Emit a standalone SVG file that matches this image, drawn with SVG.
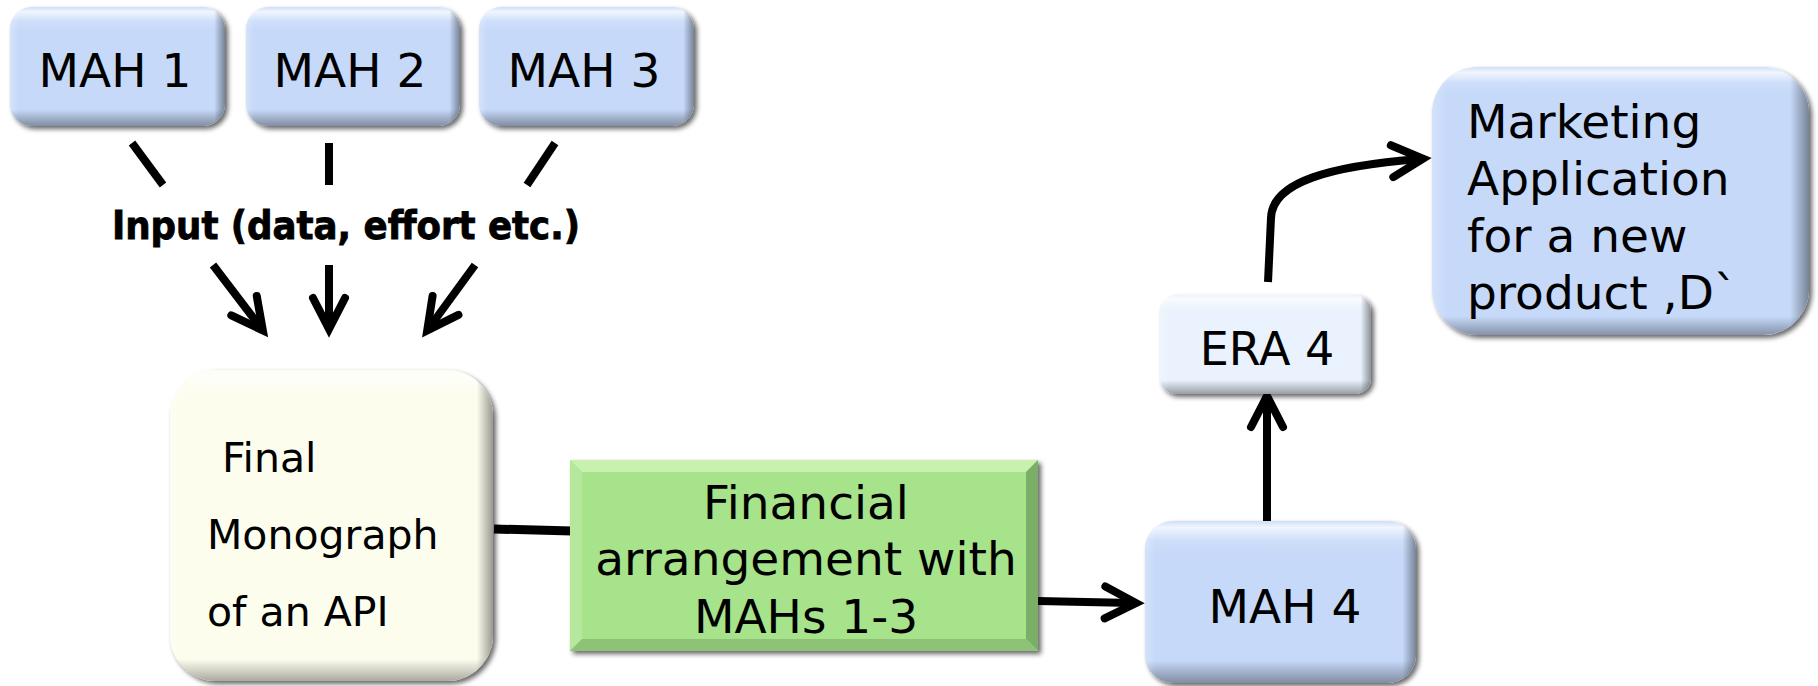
<svg xmlns="http://www.w3.org/2000/svg" width="1818" height="686" viewBox="0 0 1818 686">
<defs>
<style>
.t{font-family:"DejaVu Sans","Verdana",sans-serif;fill:#000}
.c{fill:none;stroke:#000;stroke-width:8;stroke-linecap:butt}
</style>
<filter id="sh" x="-10%" y="-10%" width="125%" height="130%">
<feGaussianBlur in="SourceAlpha" stdDeviation="2.5"/>
<feOffset dx="2.5" dy="3" result="o"/>
<feComponentTransfer><feFuncA type="linear" slope="0.6"/></feComponentTransfer>
<feMerge><feMergeNode/><feMergeNode in="SourceGraphic"/></feMerge>
</filter>
<linearGradient id="bv" x1="0" y1="0" x2="0" y2="1">
<stop offset="0" stop-color="#fff" stop-opacity="0.15"/>
<stop offset="0.04" stop-color="#fff" stop-opacity="0.75"/>
<stop offset="0.12" stop-color="#fff" stop-opacity="0.15"/>
<stop offset="0.2" stop-color="#fff" stop-opacity="0"/>
<stop offset="0.86" stop-color="#000" stop-opacity="0"/>
<stop offset="1" stop-color="#000" stop-opacity="0.35"/>
</linearGradient>
<linearGradient id="bvT" x1="0" y1="0" x2="0" y2="1">
<stop offset="0" stop-color="#fff" stop-opacity="0.15"/>
<stop offset="0.02" stop-color="#fff" stop-opacity="0.75"/>
<stop offset="0.06" stop-color="#fff" stop-opacity="0.15"/>
<stop offset="0.1" stop-color="#fff" stop-opacity="0"/>
<stop offset="0.93" stop-color="#000" stop-opacity="0"/>
<stop offset="1" stop-color="#000" stop-opacity="0.33"/>
</linearGradient>
<linearGradient id="bh" x1="0" y1="0" x2="1" y2="0">
<stop offset="0" stop-color="#fff" stop-opacity="0.25"/>
<stop offset="0.04" stop-color="#fff" stop-opacity="0"/>
<stop offset="0.95" stop-color="#000" stop-opacity="0"/>
<stop offset="1" stop-color="#000" stop-opacity="0.4"/>
</linearGradient>
<marker id="ah" markerUnits="userSpaceOnUse" viewBox="-40 -25 60 50" refX="0" refY="0" markerWidth="60" markerHeight="50" orient="auto" overflow="visible">
<path d="M-28,-16 L3,0 L-28,16" fill="none" stroke="#000" stroke-width="8" stroke-linecap="round" stroke-linejoin="miter" stroke-miterlimit="10"/>
</marker>
</defs>
<rect width="1818" height="686" fill="#fff"/>

<g id="connectors">
<path class="c" d="M132,143 L163,185"/>
<path class="c" d="M329,143 L329,185"/>
<path class="c" d="M555,143 L527,185"/>
<path class="c" d="M213,265 L261,328" marker-end="url(#ah)"/>
<path class="c" d="M329,265 L329,326" marker-end="url(#ah)"/>
<path class="c" d="M475,265 L429,328" marker-end="url(#ah)"/>
<path class="c" style="stroke-width:9" d="M494,529 L572,531"/>
<path class="c" d="M1038,601 L1133,603" marker-end="url(#ah)"/>
<path class="c" d="M1267,521 L1267,399" marker-end="url(#ah)"/>
<path class="c" d="M1268,282 L1271,218 C1272,182 1330,166 1420,159" marker-end="url(#ah)"/>
</g>

<g id="input-label">
<text x="112" y="239" font-family="'DejaVu Sans',sans-serif" font-stretch="condensed" font-weight="bold" font-size="39" stroke="#000" stroke-width="0.8" textLength="468" lengthAdjust="spacingAndGlyphs">Input (data, effort etc.)</text>
</g>

<g id="mah1">
<rect x="10" y="7" width="215" height="119" rx="22" fill="#C6D9F9" filter="url(#sh)"/>
<rect x="10" y="7" width="215" height="119" rx="22" fill="url(#bv)"/>
<rect x="10" y="7" width="215" height="119" rx="22" fill="url(#bh)"/>
<text class="t" x="115" y="87" font-size="47" text-anchor="middle">MAH 1</text>
</g>
<g id="mah2">
<rect x="246" y="7" width="214" height="119" rx="22" fill="#C6D9F9" filter="url(#sh)"/>
<rect x="246" y="7" width="214" height="119" rx="22" fill="url(#bv)"/>
<rect x="246" y="7" width="214" height="119" rx="22" fill="url(#bh)"/>
<text class="t" x="350" y="87" font-size="47" text-anchor="middle">MAH 2</text>
</g>
<g id="mah3">
<rect x="479" y="7" width="215" height="119" rx="22" fill="#C6D9F9" filter="url(#sh)"/>
<rect x="479" y="7" width="215" height="119" rx="22" fill="url(#bv)"/>
<rect x="479" y="7" width="215" height="119" rx="22" fill="url(#bh)"/>
<text class="t" x="584" y="87" font-size="47" text-anchor="middle">MAH 3</text>
</g>

<g id="final-monograph">
<rect x="170" y="370" width="323" height="311" rx="46" fill="#FDFDEE" filter="url(#sh)"/>
<rect x="170" y="370" width="323" height="311" rx="46" fill="url(#bvT)"/>
<rect x="170" y="370" width="323" height="311" rx="46" fill="url(#bh)"/>
<text class="t" font-size="41"><tspan x="222" y="472">Final</tspan><tspan x="207" y="549">Monograph</tspan><tspan x="207" y="626">of an API</tspan></text>
</g>

<g id="financial-arrangement">
<rect x="570" y="460" width="468" height="191" fill="#A6E38A" filter="url(#sh)"/>
<polygon points="570,460 1038,460 1026,472 582,472" fill="#C8F1B0"/>
<polygon points="570,460 582,472 582,639 570,651" fill="#B5E89D"/>
<polygon points="1038,460 1038,651 1026,639 1026,472" fill="#7BAE66"/>
<polygon points="570,651 1038,651 1026,639 582,639" fill="#8EC276"/>
<text class="t" font-size="47" text-anchor="middle"><tspan x="806" y="519">Financial</tspan><tspan x="806" y="575">arrangement with</tspan><tspan x="806" y="633">MAHs 1-3</tspan></text>
</g>

<g id="mah4">
<rect x="1145" y="521" width="271" height="162" rx="28" fill="#C6D9F9" filter="url(#sh)"/>
<rect x="1145" y="521" width="271" height="162" rx="28" fill="url(#bv)"/>
<rect x="1145" y="521" width="271" height="162" rx="28" fill="url(#bh)"/>
<text class="t" x="1285" y="623" font-size="47" text-anchor="middle">MAH 4</text>
</g>

<g id="era4">
<rect x="1160" y="295" width="211" height="99" rx="16" fill="#E9F2FD" filter="url(#sh)"/>
<rect x="1160" y="295" width="211" height="99" rx="16" fill="url(#bv)"/>
<rect x="1160" y="295" width="211" height="99" rx="16" fill="url(#bh)"/>
<text class="t" x="1267" y="365" font-size="46" text-anchor="middle">ERA 4</text>
</g>

<g id="marketing-application">
<rect x="1432" y="67" width="377" height="268" rx="46" fill="#C6D9F9" filter="url(#sh)"/>
<rect x="1432" y="67" width="377" height="268" rx="46" fill="url(#bvT)"/>
<rect x="1432" y="67" width="377" height="268" rx="46" fill="url(#bh)"/>
<text class="t" font-size="47"><tspan x="1467" y="138">Marketing</tspan><tspan x="1467" y="195">Application</tspan><tspan x="1467" y="252">for a new</tspan><tspan x="1467" y="309">product ,D`</tspan></text>
</g>
</svg>
